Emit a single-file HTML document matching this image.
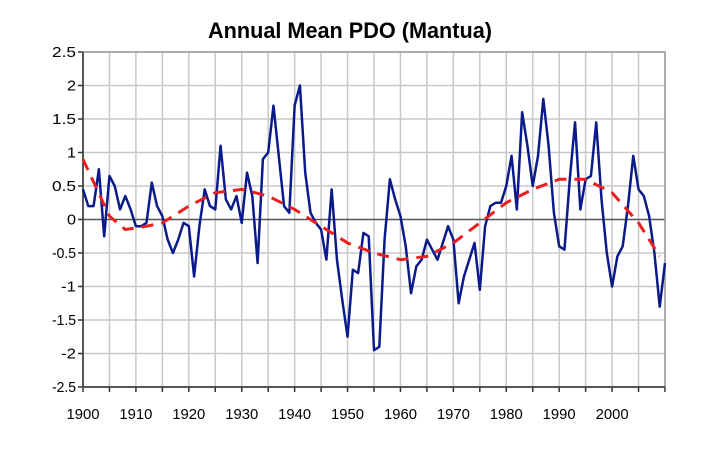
<!DOCTYPE html>
<html><head><meta charset="utf-8"><style>
body{margin:0;background:#fff;}
svg{display:block;font-family:"Liberation Sans",sans-serif;}
</style></head><body>
<svg id="chart" width="720" height="461" viewBox="0 0 720 461">
<text x="350" y="38" text-anchor="middle" font-size="22" font-weight="bold" textLength="284" lengthAdjust="spacingAndGlyphs">Annual Mean PDO (Mantua)</text>
<g id="grid"></g><g id="axes"></g><g id="series"></g>
</svg>
<script>
const years=[];for(let y=1900;y<=2010;y++)years.push(y);
const pdoValues=[0.45,0.2,0.2,0.75,-0.25,0.65,0.5,0.15,0.35,0.15,-0.1,-0.1,-0.05,0.55,0.2,0.05,-0.3,-0.5,-0.3,-0.05,-0.1,-0.85,-0.1,0.45,0.2,0.15,1.1,0.3,0.15,0.35,-0.05,0.7,0.35,-0.65,0.9,1.0,1.7,0.95,0.2,0.1,1.7,2.0,0.7,0.1,-0.05,-0.15,-0.6,0.45,-0.6,-1.2,-1.75,-0.75,-0.8,-0.2,-0.25,-1.95,-1.9,-0.3,0.6,0.3,0.05,-0.4,-1.1,-0.7,-0.6,-0.3,-0.45,-0.6,-0.35,-0.1,-0.3,-1.25,-0.85,-0.6,-0.35,-1.05,-0.1,0.2,0.25,0.25,0.5,0.95,0.15,1.6,1.1,0.5,0.95,1.8,1.1,0.1,-0.4,-0.45,0.6,1.45,0.15,0.6,0.65,1.45,0.3,-0.5,-1.0,-0.55,-0.4,0.2,0.95,0.45,0.35,0.05,-0.5,-1.3,-0.65];
const trendYears=[1900,1905,1908,1912,1915,1920,1925,1930,1935,1940,1945,1950,1955,1960,1965,1970,1975,1980,1985,1990,1995,2000,2005,2009];
const trendValues=[0.9,0.05,-0.15,-0.1,-0.05,0.2,0.4,0.45,0.35,0.15,-0.1,-0.35,-0.5,-0.6,-0.55,-0.35,-0.05,0.25,0.45,0.6,0.6,0.4,-0.05,-0.55];
const yTicks=[2.5,2,1.5,1,0.5,0,-0.5,-1,-1.5,-2,-2.5];
const yTickLabels=["2.5","2","1.5","1","0.5","0","-0.5","-1","-1.5","-2","-2.5"];
const xLabels=[1900,1910,1920,1930,1940,1950,1960,1970,1980,1990,2000];
const X0=83,X1=665,Y0=52,Y1=387;
const xs=v=>X0+(v-1900)/110*(X1-X0);
const ys=v=>Y0+(2.5-v)/5*(Y1-Y0);
const NS="http://www.w3.org/2000/svg";
function mk(t,a,p){const e=document.createElementNS(NS,t);for(const k in a)e.setAttribute(k,a[k]);p.appendChild(e);return e;}
const grid=document.getElementById('grid'),axes=document.getElementById('axes'),ser=document.getElementById('series');
for(let y=1900;y<=2010;y+=5){const l=mk('line',{x1:xs(y),x2:xs(y),y1:Y0,y2:Y1,stroke:'#c8c8c8','stroke-width':1.5},grid);

const t=mk('line',{x1:xs(y),x2:xs(y),y1:Y1,y2:Y1+5,stroke:'#333','stroke-width':1.5},axes);
}
yTicks.forEach((v,i)=>{const l=mk('line',{x1:X0,x2:X1,y1:ys(v),y2:ys(v),stroke:v===0?'#555':'#c8c8c8','stroke-width':1.5},grid);

const t=mk('line',{x1:X0-5,x2:X0,y1:ys(v),y2:ys(v),stroke:'#333','stroke-width':1.5},axes);

const tx=mk('text',{x:X0-7,y:ys(v)+5,'text-anchor':'end','font-size':15,textLength:yTickLabels[i].length>2?24:(yTickLabels[i].length>1?15:9),lengthAdjust:'spacingAndGlyphs'},axes);tx.textContent=yTickLabels[i];
});
const f=mk('rect',{x:X0,y:Y0,width:X1-X0,height:Y1-Y0,fill:'none',stroke:'#999','stroke-width':1.5},axes);

const ax=mk('line',{x1:X0,x2:X0,y1:Y0,y2:Y1,stroke:'#333','stroke-width':1.5},axes);

const bx=mk('line',{x1:X0,x2:X1,y1:Y1,y2:Y1,stroke:'#333','stroke-width':1.5},axes);

xLabels.forEach(v=>{const t=mk('text',{x:xs(v),y:419,'text-anchor':'middle','font-size':15,textLength:33,lengthAdjust:'spacingAndGlyphs'},axes);t.textContent=v;
});
const p=mk('polyline',{points:years.map((y,i)=>xs(y)+','+ys(pdoValues[i])).join(' '),fill:'none',stroke:'#0a1a8a','stroke-width':2.5,'stroke-linejoin':'round'},ser);

let d='M'+xs(trendYears[0])+','+ys(trendValues[0]);
for(let i=1;i<trendYears.length;i++)d+=' L'+xs(trendYears[i])+','+ys(trendValues[i]);
const tr=mk('path',{d:d,fill:'none',stroke:'#e82020','stroke-width':3,'stroke-dasharray':'12,8','stroke-linejoin':'round'},ser);

</script>
</body></html>
